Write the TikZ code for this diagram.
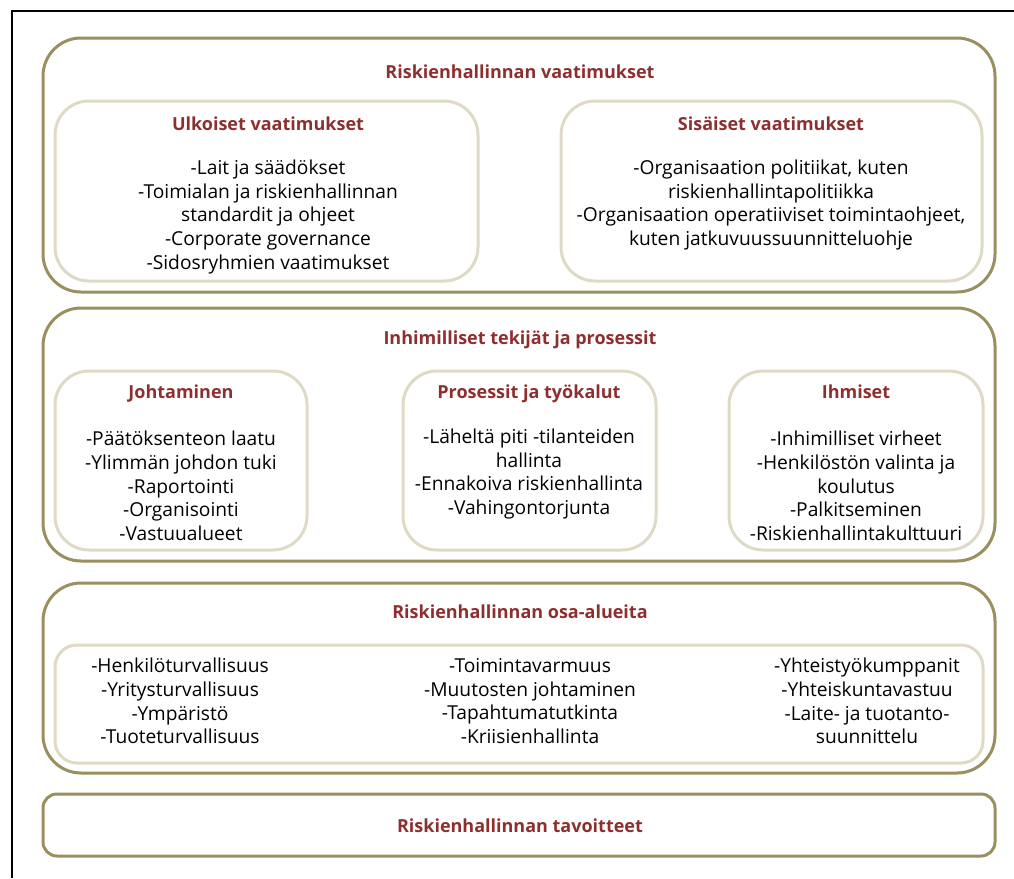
\documentclass[tikz,border=0pt]{standalone}
\usepackage{fontspec}
\setmainfont{Open Sans}
\definecolor{frameol}{HTML}{9A8F5E}
\definecolor{framelt}{HTML}{DEDAC6}
\definecolor{titlered}{HTML}{8E2F2F}
\tikzset{
  outerbox/.style={draw=frameol, line width=3pt, rounded corners=38pt},
  innerbox/.style={draw=framelt, line width=3pt, rounded corners=34pt},
  heading/.style={text=titlered, text height=13pt, text depth=0pt, font=\bfseries\fontsize{18}{20}\selectfont},
  body/.style={align=center, font=\fontsize{19.2}{23.7}\selectfont}
}
\begin{document}
\begin{tikzpicture}[x=1pt, y=-1pt]

\useasboundingbox (0,0) rectangle (1014,878);
\draw[line width=2pt] (12,878) -- (12,11) -- (1014,11);% reunaviiva

\def\xl{43}% ulkolaatikoiden reunat
\def\xr{995}

% vaatimukset
\draw[outerbox] (\xl,38) rectangle (\xr,292);
\draw[innerbox] (55,101) rectangle (478,281);
\draw[innerbox] (561,101) rectangle (982,281);
\node[heading] (vaat) at (520,72) {Riskienhallinnan vaatimukset};
\node[heading] (ulk) at (268,124) {Ulkoiset vaatimukset};
\node[heading] (sis) at (771,124) {Sisäiset vaatimukset};
\node[body] (ulklist) at (268,217) {-Lait ja säädökset\\-Toimialan ja riskienhallinnan\\standardit ja ohjeet\\-Corporate governance\\-Sidosryhmien vaatimukset};
\node[body] (sislist) at (771,205) {-Organisaation politiikat, kuten\\riskienhallintapolitiikka\\-Organisaation operatiiviset toimintaohjeet,\\kuten jatkuvuussuunnitteluohje};

% tekijät ja prosessit
\draw[outerbox] (\xl,308) rectangle (\xr,561);
\draw[innerbox] (55,371) rectangle (307,550);
\draw[innerbox] (403,371) rectangle (656,550);
\draw[innerbox] (729,371) rectangle (983,550);
\node[heading] (tek) at (520,338) {Inhimilliset tekijät ja prosessit};
\node[heading] (joht) at (181,392) {Johtaminen};
\node[heading] (pros) at (529,392) {Prosessit ja työkalut};
\node[heading] (ihm) at (856,392) {Ihmiset};
\node[body] (johtlist) at (181,486) {-Päätöksenteon laatu\\-Ylimmän johdon tuki\\-Raportointi\\-Organisointi\\-Vastuualueet};
\node[body] (proslist) at (529,474) {-Läheltä piti -tilanteiden\\hallinta\\-Ennakoiva riskienhallinta\\-Vahingontorjunta};
\node[body] (ihmlist) at (856,486) {-Inhimilliset virheet\\-Henkilöstön valinta ja\\koulutus\\-Palkitseminen\\-Riskienhallintakulttuuri};

% osa-alueet
\draw[outerbox] (\xl,583) rectangle (\xr,773);
\draw[innerbox, rounded corners=22pt] (55,645) rectangle (983,763);
\node[heading] (osa) at (520,612) {Riskienhallinnan osa-alueita};
\node[body] (osa1) at (180,701) {-Henkilöturvallisuus\\-Yritysturvallisuus\\-Ympäristö\\-Tuoteturvallisuus};
\node[body] (osa2) at (530,701) {-Toimintavarmuus\\-Muutosten johtaminen\\-Tapahtumatutkinta\\-Kriisienhallinta};
\node[body] (osa3) at (867,701) {-Yhteistyökumppanit\\-Yhteiskuntavastuu\\-Laite- ja tuotanto-\\suunnittelu};

% tavoitteet
\draw[outerbox, rounded corners=14pt] (\xl,794) rectangle (\xr,856);
\node[heading] (tav) at (520,826) {Riskienhallinnan tavoitteet};

\end{tikzpicture}
\end{document}
